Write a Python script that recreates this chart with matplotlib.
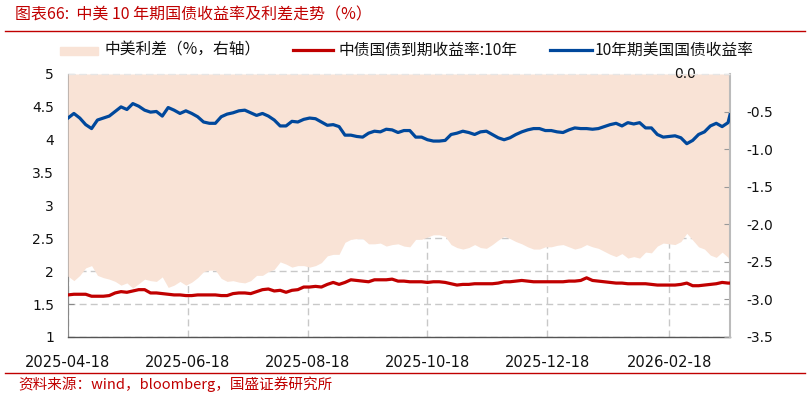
import matplotlib
matplotlib.use("Agg")
import matplotlib.pyplot as plt
import matplotlib.dates as mdates
from matplotlib.lines import Line2D
from matplotlib.patches import Rectangle
import numpy as np
import pandas as pd

plt.rcParams['font.family'] = ['DejaVu Sans', 'Noto Sans CJK SC']
CJK = ['Noto Sans CJK SC', 'DejaVu Sans']

# ---------------- data ----------------
dates = list(pd.date_range('2025-04-18', periods=113, freq='3D')) + [pd.Timestamp('2026-03-21')]

us10y = [4.33, 4.40, 4.33, 4.23, 4.17, 4.30, 4.33, 4.36, 4.43, 4.50,
         4.46, 4.55, 4.51, 4.45, 4.42, 4.43, 4.36, 4.49, 4.45, 4.40,
         4.44, 4.40, 4.35, 4.27, 4.25, 4.25, 4.35, 4.39, 4.41, 4.44,
         4.45, 4.41, 4.37, 4.40, 4.36, 4.30, 4.21, 4.21, 4.28, 4.27,
         4.31, 4.33, 4.32, 4.27, 4.22, 4.23, 4.20, 4.07, 4.07, 4.05,
         4.04, 4.10, 4.13, 4.12, 4.16, 4.15, 4.11, 4.14, 4.14, 4.04,
         4.04, 4.00, 3.98, 3.98, 3.99, 4.08, 4.10, 4.13, 4.11, 4.08,
         4.12, 4.13, 4.08, 4.03, 4.00, 4.03, 4.08, 4.12, 4.15, 4.17,
         4.17, 4.14, 4.14, 4.12, 4.11, 4.15, 4.18, 4.17, 4.17, 4.16,
         4.17, 4.20, 4.23, 4.25, 4.21, 4.26, 4.24, 4.26, 4.18, 4.18,
         4.08, 4.04, 4.05, 4.06, 4.03, 3.94, 3.99, 4.08, 4.12, 4.21,
         4.25, 4.20, 4.26, 4.38]

cn10y = [1.64, 1.65, 1.65, 1.65, 1.62, 1.62, 1.62, 1.63, 1.67, 1.69,
         1.68, 1.70, 1.72, 1.72, 1.67, 1.67, 1.66, 1.65, 1.64, 1.64,
         1.63, 1.63, 1.64, 1.64, 1.64, 1.64, 1.63, 1.63, 1.66, 1.67,
         1.67, 1.66, 1.69, 1.72, 1.73, 1.70, 1.71, 1.68, 1.71, 1.72,
         1.76, 1.76, 1.77, 1.76, 1.80, 1.83, 1.80, 1.83, 1.87, 1.86,
         1.85, 1.84, 1.87, 1.87, 1.87, 1.88, 1.85, 1.85, 1.84, 1.84,
         1.84, 1.83, 1.84, 1.84, 1.83, 1.81, 1.79, 1.80, 1.80, 1.81,
         1.81, 1.81, 1.81, 1.82, 1.84, 1.84, 1.85, 1.86, 1.85, 1.84,
         1.84, 1.84, 1.84, 1.84, 1.84, 1.85, 1.85, 1.86, 1.90, 1.86,
         1.85, 1.84, 1.83, 1.82, 1.82, 1.81, 1.81, 1.81, 1.81, 1.80,
         1.79, 1.79, 1.79, 1.79, 1.80, 1.82, 1.78, 1.78, 1.79, 1.80,
         1.81, 1.83, 1.82, 1.82]

spread = list(np.array(cn10y) - np.array(us10y))

xtick_labels = ['2025-04-18', '2025-06-18', '2025-08-18', '2025-10-18', '2025-12-18', '2026-02-18']
left_ticks = [1, 1.5, 2, 2.5, 3, 3.5, 4, 4.5, 5]
left_tick_labels = ['1', '1.5', '2', '2.5', '3', '3.5', '4', '4.5', '5']
right_ticks = [-3.5, -3.0, -2.5, -2.0, -1.5, -1.0, -0.5, 0.0]
right_tick_labels = ['-3.5', '-3.0', '-2.5', '-2.0', '-1.5', '-1.0', '-0.5', '']

title = '图表66:  中美 10 年期国债收益率及利差走势（%）'
source = '资料来源：wind，bloomberg，国盛证券研究所'
legend_labels = ['中美利差（%，右轴）', '中债国债到期收益率:10年', '10年期美国国债收益率']

# ---------------- style ----------------
RED_TXT = '#C00000'
FILL = '#F9E3D6'
RED = '#C00000'
BLUE = '#00489C'
GRID = '#C8C8C8'

W, H = 810, 398
fig = plt.figure(figsize=(W / 100, H / 100), dpi=100)
L, R, T, B = 68, 730, 74, 337
ax = fig.add_axes([L / W, 1 - B / H, (R - L) / W, (B - T) / H])

# base axis: grid + left ticks
ax.set_ylim(1, 5)
ax.set_yticks(left_ticks)
ax.set_yticklabels(left_tick_labels)
xt = pd.to_datetime(xtick_labels)
ax.set_xticks(xt)
ax.set_xticklabels(xtick_labels)
ax.set_xlim(pd.Timestamp('2025-04-18'), pd.Timestamp('2026-03-21'))
ax.grid(True, axis='both', color=GRID, linestyle=(0, (5, 3)), linewidth=1.0)
ax.tick_params(axis='y', direction='in', length=4, width=0.8, color='#888888',
               labelsize=10, pad=10, labelcolor='#111111')
ax.tick_params(axis='x', length=0, labelsize=10.5, pad=13, labelcolor='#111111')
for s in ['top', 'right']:
    ax.spines[s].set_visible(False)
ax.spines['left'].set_color('#888888')
ax.spines['bottom'].set_color('#555555')
ax.spines['bottom'].set_linewidth(1.0)

# spread fill on right axis
ax2 = ax.twinx()
ax2.fill_between(dates, spread, 0, color=FILL, linewidth=0)
ax2.set_ylim(-3.5, 0)
ax2.set_yticks(right_ticks)
ax2.set_yticklabels(right_tick_labels)
ax2.tick_params(axis='y', direction='in', length=4, width=0.8, color='#999999',
                labelsize=10, pad=12, labelcolor='#111111')
for s in ['top', 'left', 'bottom']:
    ax2.spines[s].set_visible(False)
ax2.spines['right'].set_color('#BBBBBB')
ax2.spines['right'].set_linewidth(1.5)
ax2.text(0.932, 1.0, '0.0', transform=ax2.transAxes, ha='center', va='center',
         fontsize=10, color='#111111')

# lines on top
ax3 = ax.twinx()
ax3.set_ylim(1, 5)
ax3.axhline(5, color='#E6E6E6', linestyle=(0, (5, 3)), linewidth=1.0, clip_on=False)
ax3.plot(dates, cn10y, color=RED, linewidth=2.3, solid_joinstyle='round')
ax3.plot(dates, us10y, color=BLUE, linewidth=2.3, solid_joinstyle='round')
ax3.axis('off')
ax3.set_xlim(ax.get_xlim())

# ---------------- title / source / frame lines ----------------
fig.text(15 / W, 1 - 15 / H, title, family=CJK, fontsize=11.5, color=RED_TXT,
         style='italic', ha='left', va='center')
fig.add_artist(Line2D([5 / W, 805 / W], [1 - 31 / H] * 2, color=RED_TXT, linewidth=1.0))
fig.add_artist(Line2D([5 / W, 805 / W], [1 - 373 / H] * 2, color=RED_TXT, linewidth=1.0))
fig.text(18 / W, 1 - 384 / H, source, family=CJK, fontsize=10.5, color=RED_TXT,
         style='italic', ha='left', va='center')

# ---------------- legend ----------------
ly = 1 - 50 / H
fig.add_artist(Rectangle((60 / W, 1 - 55 / H), 38 / W, 8 / H, color=FILL, transform=fig.transFigure))
fig.text(105 / W, ly, legend_labels[0], family=CJK, fontsize=11.3, color='#111111', va='center')
fig.add_artist(Line2D([293 / W, 333 / W], [ly, ly], color=RED, linewidth=2.3))
fig.text(339 / W, ly, legend_labels[1], family=CJK, fontsize=11.3, color='#111111', va='center')
fig.add_artist(Line2D([550 / W, 592 / W], [ly, ly], color=BLUE, linewidth=2.3))
fig.text(595 / W, ly, legend_labels[2], family=CJK, fontsize=11.3, color='#111111', va='center')

fig.savefig('out.png', dpi=100)
